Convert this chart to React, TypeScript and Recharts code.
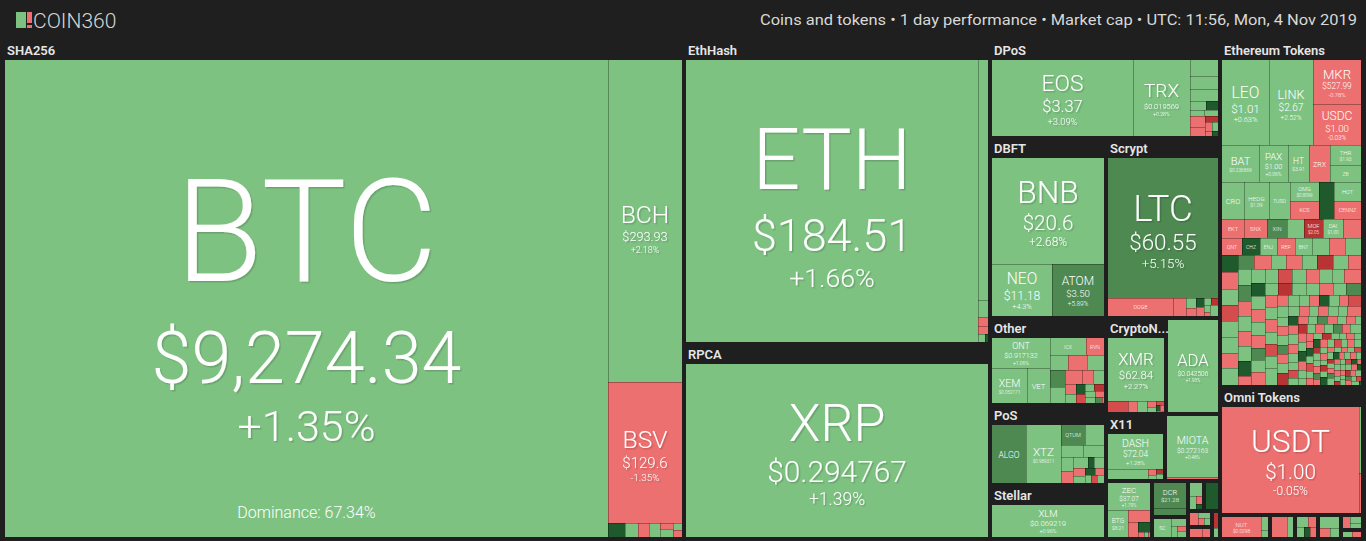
import React from 'react';
import { Treemap } from 'recharts';

type Row = [string, number, number, string?];

// values: [symbol, tile size, 24h change %, price]
const sha256Coins: Row[] = [
  ['BTC', 302670, 1.35, '$9,274.34'],
  ['BCH', 24918, 2.18, '$293.93'],
  ['BSV', 10902, -1.35, '$129.6'],
  ['ELA', 253, 12.3], ['NMC', 200, 1.2], ['PPC', 160, -2.1], ['EMC', 160, 0.8], ['CRW', 95, -1.5],
  ['UNO', 95, 2.3], ['XJP', 75, 1.1], ['CURE', 65, -0.9], ['DEM', 52, -11.4], ['TEK', 45, 3.3],
  ['BTCS', 40, 6.2], ['SPRTS', 32, -2.7], ['ZEIT', 25, 0.4], ['NYC', 18, 15.1], ['ACOIN', 14, -3.2],
];
const btcDominance = 'Dominance: 67.34%';

const ethashCoins: Row[] = [
  ['ETH', 89944, 1.66, '$184.51'],
  ['ETC', 2594, 1.8, '$4.56'], ['ETP', 184, 0.9], ['CLO', 97, -2.5], ['EXP', 80, -1.7],
  ['ETHO', 60, 2.2], ['PIRL', 40, 11.8], ['AKA', 25, -4.1],
];
const rpcaCoins: Row[] = [['XRP', 59670, 1.39, '$0.294767']];

const dposLead: Row[] = [['EOS', 13963, 3.09, '$3.37'], ['TRX', 5785, 0.28, '$0.019569']];
const dposTail: Row[] = [
  ['NANO', 588, 1.2, '$0.8988'], ['LSK', 441, 0.7], ['ARK', 441, 1.5],
  ['BTS', 175, 1.9], ['STEEM', 130, 10.6], ['GXC', 115, 2.4], ['NULS', 120, 0.8], ['WICC', 220, -3.1],
  ['SBD', 180, -2.6], ['TLOS', 100, -11.5], ['LBTC', 80, -1.8], ['ONION', 60, 1.4], ['EDC', 50, -2.9],
  ['MEETONE', 40, 12.2], ['XPX', 30, -0.6], ['BOS', 22, 0.9],
];
const dbftCoins: Row[] = [['BNB', 14008, 2.68, '$20.6'], ['NEO', 3681, 4.3, '$11.18'], ['ATOM', 3191, 5.89, '$3.50']];
const scryptCoins: Row[] = [
  ['LTC', 18181, 5.15, '$60.55'], ['DOGE', 1403, -1.2, '$0.002649'], ['DGB', 298, -1.8],
  ['EMC2', 120, 1.1], ['NLG', 100, -2.2], ['XMY', 90, 11.2], ['RDD', 80, -0.9], ['GAME', 70, 0.6],
  ['POT', 60, -10.9], ['AUR', 50, 2.7], ['VIA', 38, -3.6], ['MOON', 30, 1.3],
];
const otherLead: Row[] = [['ONT', 2379, 1.06, '$0.917132'], ['XEM', 1672, 1.55, '$0.052171'], ['VET', 1131, 2.1, '$0.005431']];
const otherTail: Row[] = [
  ['ICX', 864, 1.3, '$0.1893'], ['RVN', 432, -2.4, '$0.026727'], ['WAVES', 387, 0.8], ['LBC', 373, -1.9],
  ['ZIL', 358, 2.2], ['BTM', 355, 6.3], ['AE', 334, 0.9], ['IOST', 304, -3.1], ['NAS', 209, -2.7],
  ['MONA', 200, 1.2], ['HC', 160, -1.5], ['ARDR', 140, 0.6], ['XZC', 130, 12.1], ['XEL', 110, -6.2],
  ['SYS', 100, 2.0], ['NXT', 95, -11.9], ['PIVX', 90, 0.4], ['VTC', 80, 1.6], ['BEAM', 70, -2.3],
  ['GRIN', 60, 5.6], ['FCT', 58, -0.8],
];
const posLead: Row[] = [['ALGO', 2800, 7.41, '$0.260277'], ['XTZ', 2900, 1.8, '$0.989311']];
const posTail: Row[] = [
  ['QTUM', 700, 6.1, '$2.22'], ['VSYS', 560, 1.2, '$0.0431'], ['WAN', 370, 0.9], ['NRG', 360, 2.3],
  ['STRAT', 240, 1.5], ['BLK', 230, -2.6], ['XWC', 220, 0.4], ['NAV', 110, 10.9],
  ['POA', 150, 1.1], ['GRC', 130, -3.2], ['XST', 115, 0.7], ['PART', 105, 12.4], ['OK', 95, -2.1],
  ['CLAM', 75, 1.8], ['NEOS', 68, -6.5], ['BAY', 52, 0.3],
];
const stellarCoins: Row[] = [['XLM', 6264, 0.96, '$0.069219']];
const cryptonightCoins: Row[] = [
  ['XMR', 4904, 2.27, '$62.84'], ['BCN', 290, -6.1], ['XHV', 138, -1.4], ['ETN', 153, 0.8], ['LOKI', 76, -0.6],
  ['TRTL', 50, 1.2], ['AEON', 45, -7.1], ['MSR', 38, 12.4], ['XWP', 30, -1.1], ['GRFT', 21, 0.5], ['SUMO', 15, -3.3],
];
const ouroborosCoins: Row[] = [['ADA', 5184, 1.93, '$0.042506']];
const x11Coins: Row[] = [['DASH', 3074, 1.28, '$72.04'], ['ION', 643, 0.6], ['ENRG', 80, -2.3], ['MUE', 60, 1.4], ['XCD', 50, -10.2], ['SIB', 46, 0.9]];
const tangleCoins: Row[] = [['MIOTA', 3600, 0.48, '$0.272163'], ['MTC', 85, -1.6]];
const equihashCoins: Row[] = [
  ['ZEC', 1334, 1.79, '$37.07'], ['BTG', 635, 1.22, '$8.21'], ['ZEN', 311, -2.4], ['KMD', 176, -3.1],
  ['ZCL', 141, 10.4], ['BTCP', 30, -1.2], ['ZEL', 25, 1.7], ['HUSH', 16, -0.6],
];
const blake256Coins: Row[] = [['DCR', 1000, 6.01, '$21.28'], ['PAC', 296, 5.2]];
const blake2bCoins: Row[] = [['SC', 420, 1.6], ['XSC', 160, 0.9], ['FLO', 90, 2.1], ['NIM', 60, -2.7], ['BTCZ', 62, 0.4]];
const groestlCoins: Row[] = [['GRS', 240, 1.4], ['DMD', 120, 0.7], ['GXX', 70, -3.8], ['MYRG', 50, 11.2]];
const neoscryptCoins: Row[] = [['FTC', 480, 12.8]];
const lyraCoins: Row[] = [['BTX', 150, -2.2], ['CRC', 110, 1.5], ['ABS', 70, -1.1], ['LYRA', 50, 0.4]];
const quarkCoins: Row[] = [['QRK', 180, -2.6], ['DOPE', 120, -1.9]];
const keccakCoins: Row[] = [['MAX', 140, -12.4], ['SMC', 76, 0.7]];

const etTop: Row[] = [['LEO', 4388, 0.63, '$1.01'], ['LINK', 4201, 2.52, '$2.67']];
const etTopStack: Row[] = [['MKR', 2271, -0.78, '$527.99'], ['USDC', 2117, -0.03, '$1.00']];
const etSecond: Row[] = [
  ['BAT', 1463, 1.4, '$0.236869'], ['PAX', 1186, 0.06, '$1.00'], ['HT', 853, 1.1, '$3.91'],
  ['ZRX', 813, -1.87, '$0.2641'], ['THR', 681, 0.9, '$1.93'], ['ZB', 579, 1.3, '$0.2491'],
];
const etThird: Row[] = [
  ['CRO', 942, 0.7, '$0.0411'], ['HEDG', 1028, 0.4, '$1.09'], ['TUSD', 899, 0.1, '$1.00'],
  ['OMG', 626, 1.6, '$0.8099'], ['KCS', 593, -1.2, '$0.8305'], ['REN', 609, 13.2],
];
const etThirdStack: Row[] = [['HOT', 563, 2.1, '$0.000768'], ['CENNZ', 534, -2.3, '$0.0801']];
const etLead: Row[] = [
  ['EKT', 460, -3.1, '$0.00598'], ['SNX', 450, -2.4, '$0.7719'], ['XIN', 410, 6.2, '$158.44'],
  ['NEXO', 340, 1.1, '$0.0891'], ['MOF', 400, -11.2, '$2.05'], ['DAI', 400, 0.1, '$1.00'],
  ['LOOM', 360, -2.2, '$0.0212'], ['QNT', 370, -3.5, '$9.88'], ['CHZ', 321, 14.8, '$0.0149'],
];
const etSmallSyms = (
  'ENJ REP BNT MANA SNT GNT ELF NPXS KNC LRC POWR STORJ RLC MATIC FET ANT GNO SXP BAND AMPL ' +
  'LEND MLN DGD FUN PAY SAN CVC DENT QASH RDN TEL BIX ENG MTL POLY REQ ORBS TRUE CELR FTM ANKR RSR UTK DX INB EURS USDK GUSD PAXG QKC DRGN AOA LAMB MX BZ CRPT LKY CTXC STPT NEXXO ' +
  'AGI AMB APPC AST BLZ BRD CDT CND DATA DNT DOCK EDO EVX FUEL GTO IOTX KEY LINA LOC LYM MDA MFT MTH NCASH OAX OST PPT QSP RCN SALT SNGLS SNM STMX SUB TNB TNT VIB VIBE WABI WINGS WPR XYO UKG POE PLR GVT BCPT ARN MOD ADX ' +
  'ABT ABYSS ADH AIDOC ALIS AMLT ARCT ATMI AUC AXPR BAX BBO BCV BKX BNK BOX BQT CAN CAPP CAT CBT CCRB CHAT CHSB CLN COFI CPC CPT CRED CVT DAT DCN DGX DRT DTA EDG EGT EKO ELY EMV ENQ ESS FOAM GEN GET GNX GSE HBZ HMQ HST HYDRO IDH IHT INS IPL IQN ITC JNT KAN LALA LND LUN MAN MDT MEDX MET MORE MVL MYST NPX OCN ODE OPT PRO QBIT RATING REM RNT SENT SHIP'
).split(' ');
const etSmallSizes = [
  330, 322, 315, 310, 302, 296, 290, 286, 280, 276, 272, 268, 262, 258, 254, 250, 246, 242, 238, 234,
  240, 238, 234, 232, 228, 225, 223, 220, 218, 216, 213, 210, 208, 206, 204, 202, 200, 198, 196, 194,
  192, 190, 188, 187, 185, 184, 182, 181, 180, 178, 177, 176, 175, 174, 173, 172, 171, 170, 170, 170,
  130, 128, 126, 125, 123, 121, 120, 118, 117, 115, 114, 112, 111, 110, 108, 107, 106, 104, 103, 102,
  101, 100, 99, 98, 97, 96, 95, 94, 93, 92, 91, 90, 89, 88, 87, 86, 85, 84, 83, 82,
  81, 80, 80, 79, 78, 78, 77, 76, 76, 75,
  70, 68, 67, 66, 65, 64, 63, 62, 61, 60, 59, 58, 57, 57, 56, 55, 54, 54, 53, 52,
  51, 51, 50, 49, 49, 48, 47, 47, 46, 45, 45, 44, 44, 43, 43, 42, 42, 41, 41, 40,
  40, 40, 39, 39, 38, 38, 37, 37, 37, 36, 36, 36, 35, 35, 35, 34, 34, 34, 33, 33,
  33, 33, 32, 32, 32, 32, 31, 31, 31, 31, 30, 30, 30, 30, 30, 30, 30, 30, 30, 30,
];
const etSmallChanges = [
  2.1, -1.4, 0.8, 3.2, -4.1, 1.5, 12.3, -2.8, 0.6, -6.7, 1.9, 2.4, -1.1, 0.3, 7.8, -3.3, 1.2, -0.7, 4.4, -12.5,
  1.2, -2.3, 0.4, 5.6, -0.9, 2.7, -3.8, 1.1, 11.4, -1.6, 0.2, 3.9, -7.2, 1.4, -2.1, 0.7, 2.2, -4.5, 13.1, 0.9,
  -1.3, 1.8, -0.4, 6.3, 2.5, -3.1, 0.5, -11.8, 1.6, 3.3, -2.6, 0.1, 8.2, -1.9, 2.9, -0.6, 1.3, -5.4, 4.1, 0.8,
  -1.1, 2.3, 0.6, -3.4, 14.2, 1.7, -0.3, -8.1, 2.8, 0.4, -2.2, 1.5, 6.6, -1.7, 0.9, -13.4, 3.1, -0.8, 1.2, -4.6,
  0.3, 2.6, -2.9, 11.7, -0.5, 1.9, -1.4, 4.8, 0.7, -6.2, 2.1, -2.5, 0.2, 9.3, -1.2, 1.4, -3.7, 0.6, -15.1, 2.4,
  -0.9, 1.1, 5.2, -2.4, 0.8, -1.8, 3.5, 12.6, -0.2, 1.6,
  1.3, -2.7, -0.4, 13.5, 2.2, -9.6, 0.5, -1.3, 4.2, -12.1, 1.8, 0.2, -3.1, 2.9, 16.4, -0.8, 1.1, -5.5, 0.6, -2.2,
  3.4, -14.2, 0.9, 1.5, -1.1, 7.1, -0.6, 2.3, -3.9, 0.1, -11.3, 1.7, 12.2, -2.5, 0.8, -0.2, 2.6, -6.8, 1.2, 18.3,
  -1.6, 0.4, -4.4, 2.1, -13.7, 0.7, -0.9, 9.8, 1.9, -2.8, 0.3, -7.3, 14.6, -1.4, 1.0, -0.3, 2.4, -10.5, 0.5, 3.7,
  -1.9, 11.1, -3.3, 0.6, 1.4, -16.2, -0.7, 2.0, 5.9, -2.1, 0.2, -8.4, 1.6, 13.9, -1.2, 0.9, -4.8, 2.7, -0.5, -12.8,
];
const omniCoins: Row[] = [['USDT', 18054, -0.05, '$1.00'], ['MAID', 160, 0.9], ['OMNI', 90, -1.8]];
const eosTokenCoins: Row[] = [['NUT', 1000, -2.3, '$0.0298'], ['IQ', 120, 1.1], ['KARMA', 80, 0.6]];
const tronTokenCoins: Row[] = [['BTT', 420, -1.5], ['WIN', 180, 2.4]];
const bnbTokenCoins: Row[] = [['ONE', 150, 1.2], ['RUNE', 120, -2.5], ['CAS', 100, 0.8], ['MITX', 90, 11.4], ['WISH', 92, -1.9]];
const neoTokenCoins: Row[] = [['SWTH', 300, 1.3], ['NKN', 130, -2.2], ['DBC', 122, 0.5]];
const wavesTokenCoins: Row[] = [['WCT', 136, -3.4], ['WEST', 100, 0.9], ['VST', 100, 1.7]];
const qtumTokenCoins: Row[] = [['QBT', 100, 0.4], ['INK', 92, -2.8]];

const headerText = 'Coins and tokens  •  1 day performance  •  Market cap  •  UTC: 11:56, Mon, 4 Nov 2019';

const BG = '#1e1f1e';
const FONT = 'Roboto, "Open Sans", "DejaVu Sans", sans-serif';

const toNode = (it: any) =>
  Array.isArray(it) ? { name: it[0], size: it[1], change: it[2], price: it[3] } : it;
const box = (name: string, items: any[]) => ({ name, children: items.map(toNode) });
const group = (name: string, items: any[]) => ({ name, kind: 'group', children: items.map(toNode) });

const etSmall: Row[] = etSmallSyms.map((s, i) => [s, etSmallSizes[i], etSmallChanges[i] ?? 0]);

const treeData = [
  box('west', [
    group('SHA256', sha256Coins),
    box('centre', [
      box('mid', [group('EthHash', ethashCoins), group('RPCA', rpcaCoins)]),
      box('alts', [
        group('DPoS', [box('dpos-lead', dposLead), ...dposTail]),
        box('alts-lower', [
          group('DBFT', dbftCoins),
          group('Scrypt', scryptCoins),
          box('alts-bottom', [
            box('alts-left', [
              group('Other', [box('other-lead', otherLead), box('other-rest', otherTail)]),
              group('PoS', [posLead[0], box('pos-rest', [posLead[1], box('pos-tail', posTail)])]),
              group('Stellar', stellarCoins),
            ]),
            box('alts-right', [
              group('CryptoNight', cryptonightCoins),
              group('Ouroboros', ouroborosCoins),
              group('X11', x11Coins),
              group('Tangle', tangleCoins),
              group('Equihash', equihashCoins),
              group('Blake256', blake256Coins),
              group('Blake2b', blake2bCoins),
              group('Groestl', groestlCoins),
              group('NeoScrypt', neoscryptCoins),
              group('Lyra2REv3', lyraCoins),
              group('Quark', quarkCoins),
              group('Keccak', keccakCoins),
            ]),
          ]),
        ]),
      ]),
    ]),
  ]),
  box('east', [
    group('Ethereum Tokens', [
      box('et-row1', [...etTop, box('et-row1-stack', etTopStack)]),
      box('et-row2', etSecond),
      box('et-lower', [
        box('et-row3', [...etThird, box('et-row3-stack', etThirdStack)]),
        box('et-rest', [...etLead, ...etSmall]),
      ]),
    ]),
    group('Omni Tokens', omniCoins),
    box('east-bottom', [
      group('EOS Tokens', eosTokenCoins),
      group('TRON Tokens', tronTokenCoins),
      group('Binance Chain', bnbTokenCoins),
      group('NEO Tokens', neoTokenCoins),
      group('Waves Tokens', wavesTokenCoins),
      group('Qtum Tokens', qtumTokenCoins),
    ]),
  ]),
];

const fillFor = (ch: number) =>
  ch >= 10 ? '#1f5a2d' : ch >= 5 ? '#4e8951' : ch >= 0 ? '#7ec282' : ch > -5 ? '#ed7070' : ch > -10 ? '#d44c4c' : '#b83333';

// rough glyph widths in em, used to fit labels inside tiles
const em = (t: string) => {
  let w = 0;
  for (const ch of t) {
    if (/[A-Z]/.test(ch)) w += ch === 'I' ? 0.3 : ch === 'M' || ch === 'W' ? 0.86 : 0.65;
    else if (/[0-9$]/.test(ch)) w += 0.56;
    else if (ch === '.' || ch === ',') w += 0.25;
    else if (ch === '%') w += 0.73;
    else if (ch === '+') w += 0.57;
    else if (ch === '-') w += 0.36;
    else if (ch === ' ') w += 0.25;
    else w += 0.52;
  }
  return w;
};

const collect = (n: any, out: any[]) => {
  if (n.children && n.children.length) n.children.forEach((c: any) => collect(c, out));
  else out.push(n);
};

function cellLabel(c: any) {
  const { l, x0, y0, w, h } = c;
  const s = Math.min(0.3 * h, 0.3 * Math.sqrt(w * h), (0.65 * w) / em(l.name));
  if (s < 5) return null;
  const p = l.price ? Math.min(0.46 * s + 6, 0.8 * s, (0.62 * w) / em(l.price)) : 0;
  const showP = p >= 4.5;
  const chText = `${l.change > 0 ? '+' : ''}${l.change}%`;
  const cz = showP ? Math.min(0.28 * s + 3, 0.7 * p, (0.6 * w) / em(chText)) : 0;
  const showC = cz >= 4.5;
  // line advance keeps each line's descent clear of the next line's ascent
  const adv1 = Math.max(1.16 * p, 0.245 * s + 0.93 * p);
  const adv2 = Math.max(1.31 * cz, 0.245 * p + 0.93 * cz);
  const block = 0.71 * s + (showP ? adv1 : 0) + (showC ? adv2 : 0);
  const top = y0 + h / 2 - block / 2 + 0.025 * h;
  const b1 = top + 0.71 * s;
  const b2 = b1 + adv1;
  const b3 = b2 + adv2;
  const cx = x0 + w / 2;
  return (
    <g key={`lbl-${l.name}`}>
      <text
        textAnchor="middle"
        fill="#ffffff"
        fontFamily={FONT}
        fontWeight={300}
        filter={s >= 16 ? 'url(#tile-shadow)' : undefined}
      >
        <tspan x={cx} y={b1} fontSize={s}>{l.name}</tspan>
        {showP && <tspan x={cx} y={b2} fontSize={p}>{l.price}</tspan>}
        {showC && <tspan x={cx} y={b3} fontSize={cz}>{chText}</tspan>}
      </text>
      {l.name === 'BTC' && (
        <text x={cx} y={y0 + h - 19} textAnchor="middle" fill="#ffffff" fontFamily={FONT} fontWeight={300} fontSize={16}>
          {btcDominance}
        </text>
      )}
    </g>
  );
}

function renderGroup(props: any) {
  const { x, y, width, height, name } = props;
  const titled = width >= 58 && height >= 45;
  const ix = x + 2;
  const iy = y + (titled ? 20 : 2);
  const iw = width - 4;
  const ih = height - (titled ? 22 : 4);
  const sx = iw / width;
  const sy = ih / height;
  const leaves: any[] = [];
  collect(props, leaves);
  const rx = Math.round(ix);
  const ry = Math.round(iy);
  const cells = leaves
    .map((l) => {
      const x0 = Math.round(ix + (l.x - x) * sx);
      const x1 = Math.round(ix + (l.x + l.width - x) * sx);
      const y0 = Math.round(iy + (l.y - y) * sy);
      const y1 = Math.round(iy + (l.y + l.height - y) * sy);
      return { l, x0, y0, w: x1 - x0, h: y1 - y0 };
    })
    .filter((c) => c.w > 0 && c.h > 0);
  let d = '';
  cells.forEach((c) => {
    if (c.x0 > rx) d += `M${c.x0 + 0.5},${c.y0}V${c.y0 + c.h}`;
    if (c.y0 > ry) d += `M${c.x0},${c.y0 + 0.5}H${c.x0 + c.w}`;
  });
  let title = name;
  const maxChars = Math.floor((width - 6) / 7.2);
  if (title.length > maxChars) title = `${title.slice(0, maxChars)}...`;
  return (
    <g>
      {titled && (
        <text x={x + 4} y={y + 14.5} fontSize={13} fontWeight={600} fill="#e6e6e6" fontFamily={FONT}>
          {title}
        </text>
      )}
      {cells.map((c, i) => (
        <rect key={`r-${i}`} x={c.x0} y={c.y0} width={c.w} height={c.h} fill={fillFor(c.l.change)} />
      ))}
      <path d={d} stroke="rgba(0,0,0,0.3)" strokeWidth={1} fill="none" />
      {cells.map((c) => cellLabel(c))}
    </g>
  );
}

const renderNode = (props: any) => (props.kind === 'group' ? renderGroup(props) : <g />);

export default function App() {
  return (
    <div style={{ position: 'relative', width: 1366, height: 541, background: BG, overflow: 'hidden' }}>
      <style>{`body{margin:0;background:${BG}}`}</style>
      <svg width={1366} height={40} style={{ position: 'absolute', left: 0, top: 0 }}>
        <defs>
          <filter id="tile-shadow" x="-10%" y="-10%" width="130%" height="130%">
            <feDropShadow dx="1.5" dy="1.5" stdDeviation="0.3" floodColor="#000000" floodOpacity="0.16" />
          </filter>
        </defs>
        <rect x={16} y={12} width={10} height={16} fill="#7ec282" />
        <rect x={27} y={12} width={5} height={11} fill="#ed7070" />
        <rect x={27} y={25} width={5} height={3} fill="#ed7070" />
        <text x={33} y={28} fontSize={21} fill="#d6d6d6" fontWeight={300} fontFamily={FONT}>
          COIN360
        </text>
        <text x={760} y={25} fontSize={15.5} fill="#d8d8d8" fontFamily={FONT} textLength={597} lengthAdjust="spacingAndGlyphs">
          {headerText}
        </text>
      </svg>
      <div style={{ position: 'absolute', left: 3, top: 40 }}>
        <Treemap
          width={1360}
          height={499}
          data={treeData}
          dataKey="size"
          aspectRatio={1}
          isAnimationActive={false}
          content={renderNode}
        />
      </div>
    </div>
  );
}
